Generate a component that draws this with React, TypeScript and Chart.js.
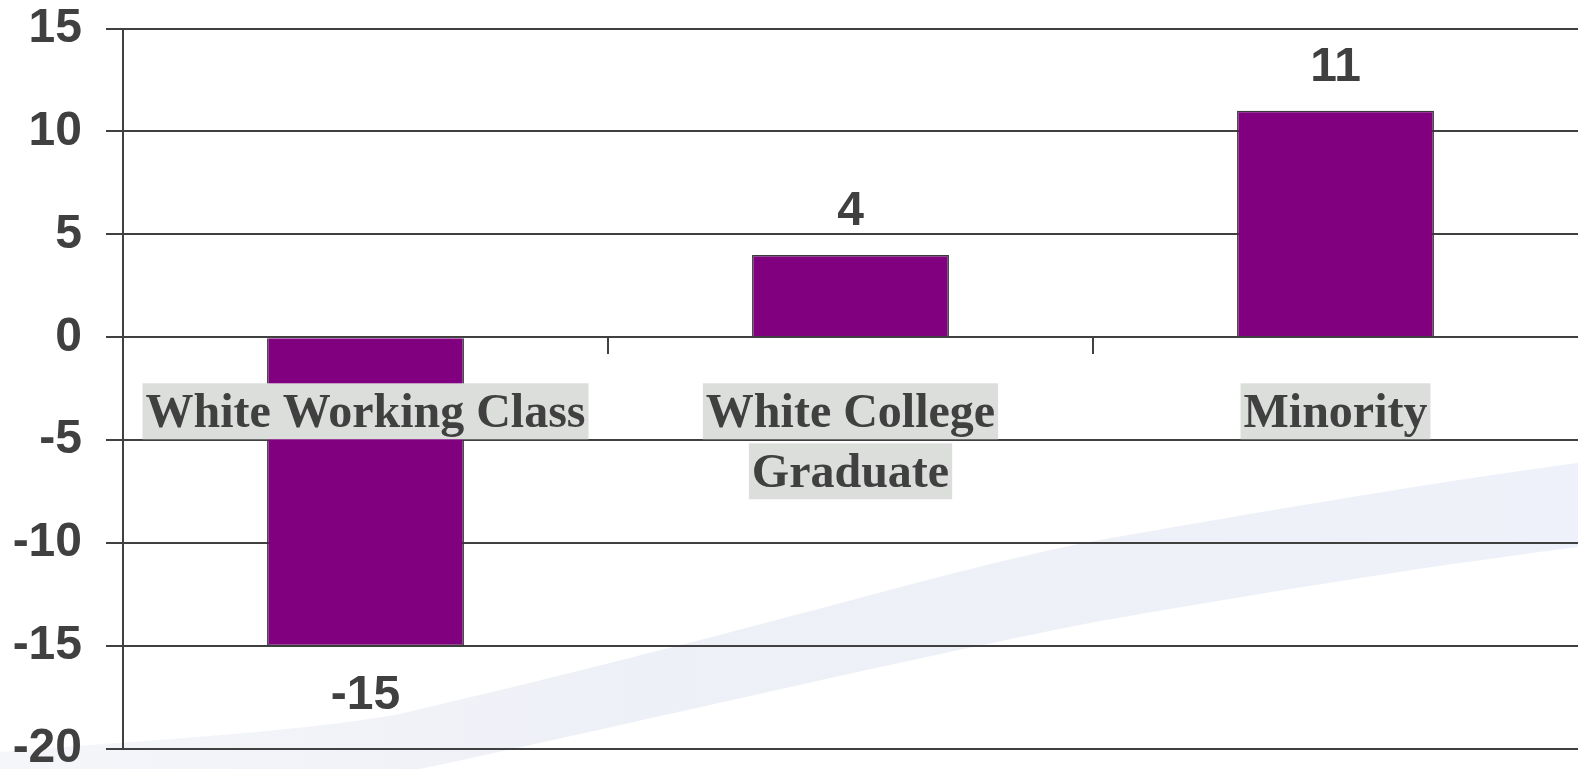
import React, { useEffect, useRef } from "react";
import { Chart, registerables } from "chart.js";

Chart.register(...registerables);

const categories: string[][] = [["White Working Class"], ["White College", "Graduate"], ["Minority"]];
const values: number[] = [-15, 4, 11];
const yMin = -20;
const yMax = 15;
const yStep = 5;

const INK = "#404040";

const bandPlugin = {
  id: "band",
  beforeDraw(chart: any) {
    const { ctx, width: W, height: H } = chart;
    ctx.save();
    ctx.fillStyle = "#ffffff";
    ctx.fillRect(0, 0, W, H);
    const sx = W / 1578;
    const sy = H / 769;
    const grad = ctx.createLinearGradient(0, 0, W, 0);
    grad.addColorStop(0, "rgba(238,240,246,0.6)");
    grad.addColorStop(0.4, "rgba(238,240,247,1)");
    grad.addColorStop(1, "rgba(238,241,249,1)");
    ctx.fillStyle = grad;
    ctx.beginPath();
    ctx.moveTo(0, 752 * sy);
    ctx.bezierCurveTo(150 * sx, 740 * sy, 300 * sx, 732 * sy, 400 * sx, 714 * sy);
    ctx.bezierCurveTo(800 * sx, 620 * sy, 950 * sx, 568 * sy, 1100 * sx, 540 * sy);
    ctx.bezierCurveTo(1300 * sx, 505 * sy, 1450 * sx, 480 * sy, W, 463 * sy);
    ctx.lineTo(W, 547 * sy);
    ctx.bezierCurveTo(1400 * sx, 570 * sy, 1250 * sx, 595 * sy, 1100 * sx, 621 * sy);
    ctx.bezierCurveTo(900 * sx, 660 * sy, 650 * sx, 720 * sy, 420 * sx, 769 * sy);
    ctx.lineTo(0, 769 * sy);
    ctx.closePath();
    ctx.fill();
    ctx.restore();
  },
};

const valueLabelPlugin = {
  id: "valueLabels",
  afterDatasetsDraw(chart: any) {
    const { ctx } = chart;
    const meta = chart.getDatasetMeta(0);
    ctx.save();
    ctx.font = "bold 48px 'Liberation Sans', Arial, sans-serif";
    ctx.fillStyle = INK;
    ctx.textAlign = "center";
    ctx.textBaseline = "alphabetic";
    meta.data.forEach((bar: any, i: number) => {
      const v = values[i];
      if (v >= 0) {
        ctx.fillText(String(v), bar.x, bar.y - 30);
      } else {
        ctx.fillText(String(v), bar.x, bar.y + 63);
      }
    });
    ctx.restore();
  },
};

const categoryLabelPlugin = {
  id: "categoryLabels",
  afterDraw(chart: any) {
    const { ctx } = chart;
    const xs = chart.scales.x;
    const ys = chart.scales.y;
    const zero = ys.getPixelForValue(0);
    ctx.save();
    ctx.font = "bold 48px 'Liberation Serif', 'Times New Roman', serif";
    ctx.textAlign = "center";
    ctx.textBaseline = "alphabetic";
    categories.forEach((lines, i) => {
      const cx = xs.getPixelForValue(i);
      lines.forEach((line, j) => {
        const top = zero + 46 + j * 60;
        const w = ctx.measureText(line).width;
        ctx.fillStyle = "#dcdedc";
        ctx.fillRect(cx - w / 2 - 3, top, w + 6, 56);
        ctx.fillStyle = INK;
        ctx.fillText(line, cx, top + 44);
      });
    });
    ctx.restore();
  },
};

export default function App() {
  const ref = useRef<HTMLCanvasElement | null>(null);
  useEffect(() => {
    document.body.style.margin = "0";
    document.body.style.overflow = "hidden";
    if (!ref.current) return;
    const chart = new Chart(ref.current, {
      type: "bar",
      data: {
        labels: categories.map((l) => l.join(" ")),
        datasets: [
          {
            data: values,
            backgroundColor: "#800080",
            borderColor: "#3a3a3a",
            borderWidth: 1.5,
            barPercentage: 0.406,
            categoryPercentage: 1,
          },
        ],
      },
      options: {
        animation: false,
        responsive: true,
        maintainAspectRatio: false,
        layout: { padding: 0 },
        plugins: { legend: { display: false }, tooltip: { enabled: false } },
        scales: {
          x: {
            type: "category",
            position: { y: 0 } as any,
            offset: true,
            grid: {
              offset: true,
              drawOnChartArea: false,
              drawTicks: true,
              tickLength: 16,
              color: (c: any) => (c.index === undefined ? "rgba(0,0,0,0)" : INK),
              lineWidth: 2,
            },
            border: { display: true, color: INK, width: 2 },
            ticks: { display: false },
            afterFit(scale: any) {
              scale.paddingLeft = 0;
              scale.paddingRight = 0;
            },
          },
          y: {
            min: yMin,
            max: yMax,
            ticks: {
              stepSize: yStep,
              color: INK,
              padding: 24,
              font: { family: "'Liberation Sans', Arial, sans-serif", size: 48, weight: "bold" },
            },
            grid: { color: INK, lineWidth: 2, tickLength: 17 },
            border: { display: true, color: INK, width: 2 },
            afterFit(scale: any) {
              scale.width = 123;
              scale.paddingTop = 28.5;
              scale.paddingBottom = 20;
            },
          },
        },
      },
      plugins: [bandPlugin, valueLabelPlugin, categoryLabelPlugin],
    });
    return () => chart.destroy();
  }, []);
  return (
    <div style={{ width: "100vw", height: "100vh", position: "relative" }}>
      <canvas ref={ref} />
    </div>
  );
}
